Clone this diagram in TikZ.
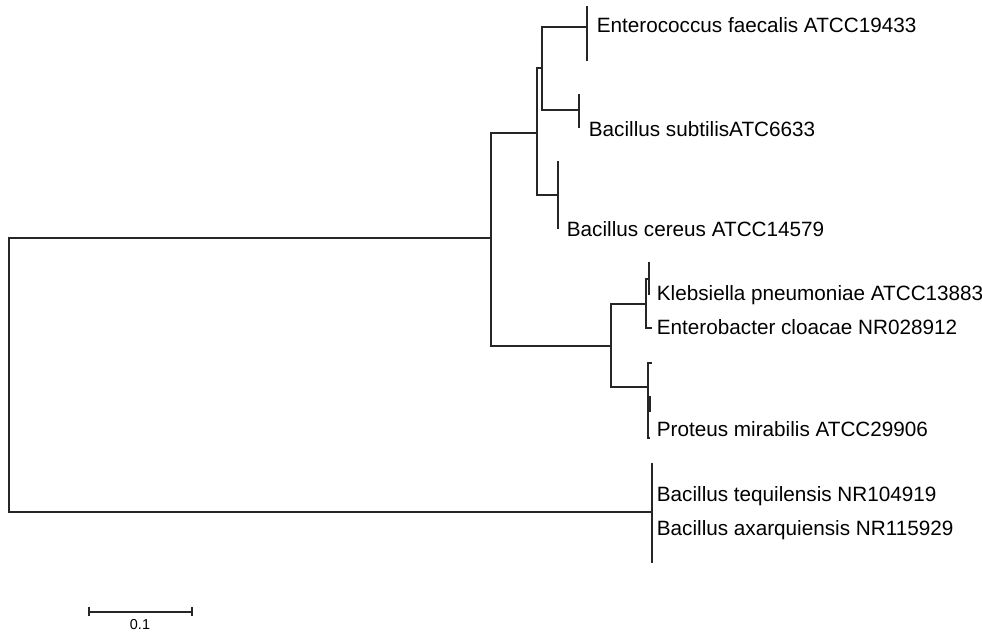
\documentclass[tikz,border=0pt]{standalone}
\usepackage{fontspec}
\setmainfont{Liberation Sans}
\usetikzlibrary{positioning, arrows.meta}

\begin{document}
\begin{tikzpicture}[
    x=0.5pt,
    y=-0.5pt,
    branch/.style={
        draw=black!85,
        line width=0.8pt
    },
    taxon/.style={
        anchor=base west,
        inner sep=0pt,
        font=\fontsize{10.35}{12}\selectfont
    },
    scalelabel/.style={
        anchor=base,
        inner sep=0pt,
        font=\fontsize{7.2}{9}\selectfont
    }
]

\useasboundingbox (0,0) rectangle (982,636);

\coordinate (root) at (9,375);
\coordinate (nA) at (491,238);
\coordinate (nB) at (537,133);
\coordinate (nC) at (542,68);
\coordinate (nE) at (611,346);
\coordinate (nD) at (646,304);
\coordinate (nF) at (648,387);

\coordinate (tEnt) at (587,27);
\coordinate (tSub) at (579,110);
\coordinate (tCer) at (558,195);
\coordinate (tKle) at (649,279);
\coordinate (tEnb) at (652,328);
\coordinate (tProA) at (652,363);
\coordinate (tProB) at (650,438);
\coordinate (tTeq) at (652,512);

\coordinate (barL) at (88,612);
\coordinate (barR) at (193,612);

\node[taxon] (lEnt) at (596.5,33) {Enterococcus faecalis ATCC19433};

\node[taxon] (lSub) at (588.5,137) {Bacillus subtilisATC6633};

\node[taxon] (lCer) at (566.5,236.5) {Bacillus cereus ATCC14579};

\node[taxon] (lKle) at (656.5,301) {Klebsiella pneumoniae ATCC13883};

\node[taxon] (lEnb) at (656.5,335) {Enterobacter cloacae NR028912};

\node[taxon] (lPro) at (656.5,436.5) {Proteus mirabilis ATCC29906};

\node[taxon] (lTeq) at (656.5,501.5) {Bacillus tequilensis NR104919};

\node[taxon] (lAxa) at (656.5,536) {Bacillus axarquiensis NR115929};

\node[scalelabel] (lBar) at (140,630) {0.1};

\draw[branch] (nA) -| (root) |- (tTeq);
\draw[branch] (nB) -| (nA) |- (nE);
\draw[branch] (nC) -| (nB) |- (tCer);
\draw[branch] (tEnt) -| (nC) |- (tSub);
\draw[branch] (nD) -| (nE) |- (nF);
\draw[branch] (tKle) -| (nD) |- (tEnb);
\draw[branch] (tProA) -| (nF) |- (tProB);

\draw[branch] (tEnt) ++(0,-21) -- ++(0,55);
\draw[branch] (tSub) ++(0,-16) -- ++(0,34);
\draw[branch] (tCer) ++(0,-34) -- ++(0,68);
\draw[branch] (tKle) ++(0,-17) -- ++(0,33);
\draw[branch] (tProB) ++(0,-42) -- ++(0,16);
\draw[branch] (tTeq) ++(0,-49) -- ++(0,100);

\draw[branch, {Bar[width=4.5pt]}-{Bar[width=4.5pt]}] (barL) -- (barR);

\end{tikzpicture}
\end{document}
